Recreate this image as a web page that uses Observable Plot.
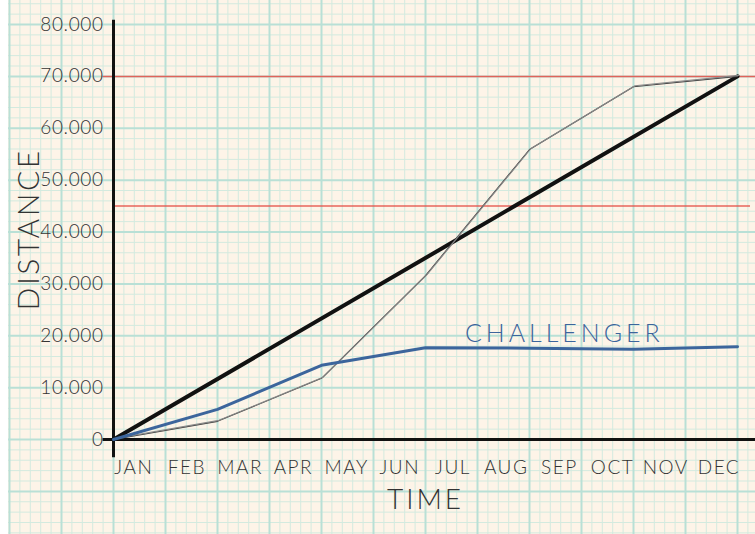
<!DOCTYPE html>
<html>
<head>
<meta charset="utf-8">
<script src="https://cdn.jsdelivr.net/npm/d3@7"></script>
<script src="https://cdn.jsdelivr.net/npm/@observablehq/plot@0.6"></script>
<style>
  html, body { margin: 0; padding: 0; background: #ffffff; }
  #chart { padding-left: 8px; width: 747px; height: 534px; overflow: hidden; }
  #chart svg text { font-family: "Lato", "Open Sans", sans-serif; font-weight: 300; }
  #chart g[aria-label="y-axis tick label"] text { letter-spacing: 0.6px; }
  #chart g[aria-label="x-axis tick label"] text { letter-spacing: 1.5px; }
</style>
</head>
<body>
<div id="chart"></div>
<script>
// ---- data ----
const months = ["JAN","FEB","MAR","APR","MAY","JUN","JUL","AUG","SEP","OCT","NOV","DEC"];
const yTicks = [0, 10000, 20000, 30000, 40000, 50000, 60000, 70000, 80000];

// month index (0 = start of JAN, 12 = end of DEC)
const groupIdx    = [0, 2, 4, 6, 8, 10, 12];
const groupValues = [0, 3500, 11800, 31600, 55900, 68000, 70000];

const challengerIdx    = [0, 2, 4, 6, 8, 10, 12];
const challengerValues = [0, 5800, 14300, 17700, 17600, 17400, 17900];
const challengerLabel  = "CHALLENGER";

const targetIdx    = [0, 12];
const targetValues = [0, 70000];

const upperLevel = [70000];
const lowerLevel = [45000];

const xTitle = "TIME";
const yTitle = "DISTANCE";

// ---- build tables ----
const group = groupIdx.map((m, i) => ({m, v: groupValues[i]}));
const challenger = challengerIdx.map((m, i) => ({m, v: challengerValues[i]}));
const target = targetIdx.map((m, i) => ({m, v: targetValues[i]}));

// graph-paper background (styling only)
const majorX = d3.range(-3, 14, 1);
const minorX = d3.range(-3, 14, 0.2).filter(x => Math.abs(x - Math.round(x)) > 1e-6);
const majorY = d3.range(-20000, 90001, 10000);
const minorY = d3.range(-20000, 90001, 2000).filter(y => y % 10000 !== 0);
const monthTickPos = months.map((_, i) => 0.39 + 1.023 * i);

const yFmt = d => d === 0 ? "0" : d3.format(",")(d).replace(",", ".");

const chart = Plot.plot({
  width: 747,
  height: 534,
  marginLeft: 105,
  marginRight: 18,
  marginTop: 24,
  marginBottom: 95,
  style: { background: "#fdf4e8", overflow: "hidden", color: "#333" },
  x: { domain: [0, 12], axis: null, label: null },
  y: { domain: [0, 80000], axis: null, label: null },
  marks: [
    Plot.ruleX(minorX, { y1: -20000, y2: 90000, stroke: "#d3eadf", strokeWidth: 1 }),
    Plot.ruleY(minorY, { x1: -3, x2: 14, stroke: "#d3eadf", strokeWidth: 1 }),
    Plot.ruleX(majorX, { y1: -20000, y2: 90000, stroke: "#b9e0d6", strokeWidth: 2 }),
    Plot.ruleY(majorY, { x1: -3, x2: 14, stroke: "#b9e0d6", strokeWidth: 2 }),

    // reference levels
    Plot.ruleY(upperLevel, { x1: -0.2, x2: 13, stroke: "#e4554c", strokeWidth: 1.5, strokeOpacity: 0.9 }),
    Plot.ruleY(lowerLevel, { x1: 0, x2: 12.25, stroke: "#e4554c", strokeWidth: 1.5, strokeOpacity: 0.9 }),

    // axes lines
    Plot.ruleY([0], { x1: -0.2, x2: 13, stroke: "#111", strokeWidth: 3 }),
    Plot.ruleX([0], { y1: -3500, y2: 80800, stroke: "#111", strokeWidth: 3 }),

    // data lines
    Plot.line(target, { x: "m", y: "v", stroke: "#111", strokeWidth: 4 }),
    Plot.line(group, { x: "m", y: "v", stroke: "#444", strokeWidth: 1.1 }),
    Plot.line(group, { x: "m", y: "v", stroke: "#888", strokeWidth: 1.1, dx: 1.5, dy: -1 }),
    Plot.line(challenger, { x: "m", y: "v", stroke: "#3c659c", strokeWidth: 3 }),

    Plot.text([challengerLabel], { x: 8.67, y: 20300, text: d => d, fill: "#3c659c", fontSize: 25 }),

    // axes
    Plot.axisY(yTicks, { label: null, tickSize: 0, tickPadding: 10, tickFormat: yFmt, fontSize: 19, fill: "#333" }),
    Plot.axisX(monthTickPos, { label: null, tickSize: 0, tickPadding: 21, tickFormat: (d, i) => months[i], fontSize: 19, fill: "#333" }),
    Plot.text([xTitle], { x: 6.0, y: -11700, text: d => d, fontSize: 28, fill: "#333" }),
    Plot.text([yTitle], { x: -1.62, y: 40500, text: d => d, fontSize: 30, rotate: -90, fill: "#333" })
  ]
});
// letter spacing for the free-standing texts
const spacing = new Map([[challengerLabel, "4px"], [xTitle, "3px"], [yTitle, "2.5px"]]);
d3.select(chart).selectAll("text").each(function () {
  const s = spacing.get(this.textContent);
  if (s) this.style.letterSpacing = s;
});
document.getElementById("chart").appendChild(chart);
</script>
</body>
</html>
